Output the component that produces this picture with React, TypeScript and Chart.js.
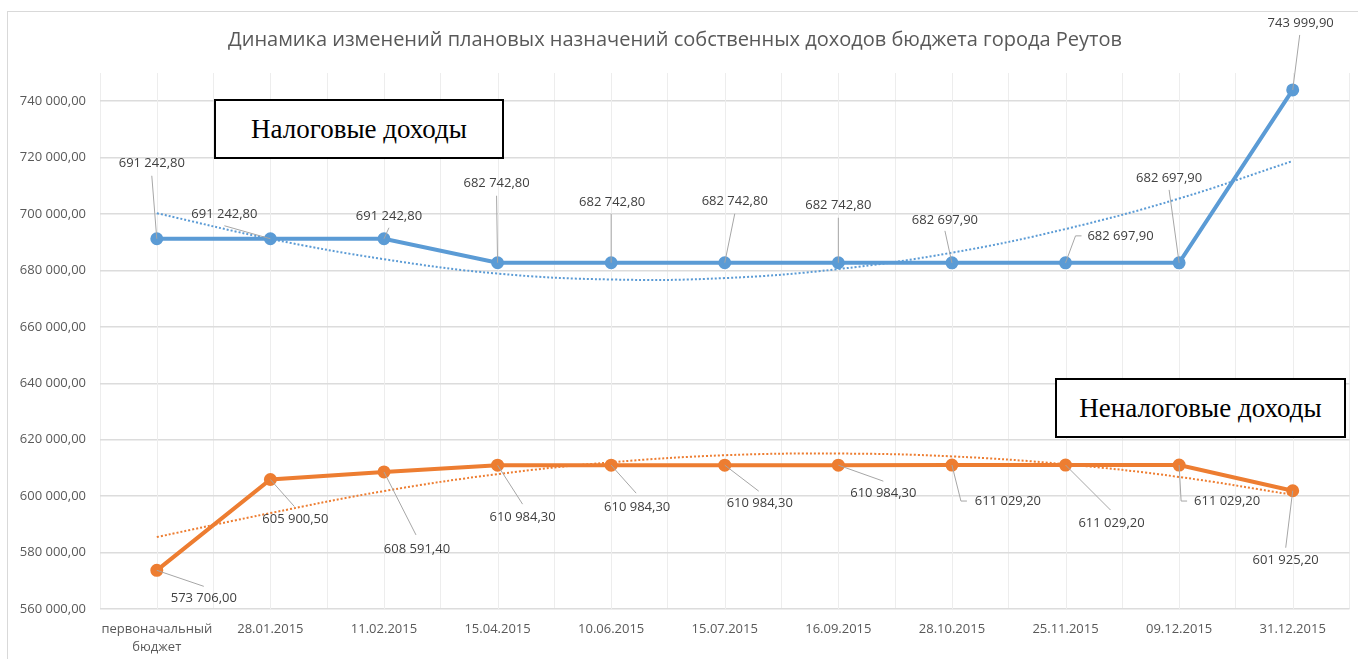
import React, { useEffect, useRef } from 'react';
import { Chart, registerables } from 'chart.js';

Chart.register(...registerables);

const chartTitle = 'Динамика изменений плановых назначений собственных доходов бюджета города Реутов';

const categories: (string | string[])[] = [
  ['первоначальный', 'бюджет'],
  '28.01.2015',
  '11.02.2015',
  '15.04.2015',
  '10.06.2015',
  '15.07.2015',
  '16.09.2015',
  '28.10.2015',
  '25.11.2015',
  '09.12.2015',
  '31.12.2015',
];

const taxIncome = [
  691242.8, 691242.8, 691242.8, 682742.8, 682742.8, 682742.8, 682742.8, 682697.9, 682697.9, 682697.9, 743999.9,
];

const nonTaxIncome = [
  573706.0, 605900.5, 608591.4, 610984.3, 610984.3, 610984.3, 610984.3, 611029.2, 611029.2, 611029.2, 601925.2,
];

// Polynomial trend lines
const taxTrend = [700300, 691200, 684000, 678900, 676800, 677300, 680500, 686300, 694700, 705500, 718800];
const nonTaxTrend = [585500, 594000, 601800, 607800, 612000, 614500, 615100, 614100, 611300, 606800, 600500];

const yTickValues = [560000, 580000, 600000, 620000, 640000, 660000, 680000, 700000, 720000, 740000];

const seriesNames = ['Налоговые доходы', 'Неналоговые доходы'];

// label placement: [label dx, label dy, leader dx, leader dy, hook length]
const taxLabelLayout = [
  [-5, -75, -5, -63, 0],
  [-46, -24, -46, -13, 0],
  [5, -22, 5, -11, 0],
  [-1, -79, -1, -67, 0],
  [1, -60, 0, -49, 0],
  [10, -61, 10, -49, 0],
  [0, -57, 0, -45, 0],
  [-7, -43, -7, -32, 0],
  [55, -27, 10, -27, 6],
  [-10, -85, -10, -73, 0],
  [8, -67, 7, -55, 0],
];
const nonTaxLabelLayout = [
  [47, 28, 47, 16, 0],
  [25, 40, 24, 27, 0],
  [33, 77, 32, 63, 0],
  [25, 52, 25, 39, 0],
  [26, 42, 25, 28, 0],
  [35, 38, 34, 26, 0],
  [45, 28, 45, 16, 0],
  [56, 36, 9, 36, 6],
  [46, 58, 45, 45, 0],
  [48, 36, 2, 36, 6],
  [-7, 70, -7, 57, 0],
];

const BLUE = '#5b9bd5';
const ORANGE = '#ed7d31';

function fmt(v: number): string {
  const [i, d] = v.toFixed(2).split('.');
  return i.replace(/\B(?=(\d{3})+(?!\d))/g, ' ') + ',' + d;
}

const centerGrid = {
  id: 'centerGrid',
  beforeDatasetsDraw(chart: any) {
    const { ctx, chartArea } = chart;
    const xs = chart.scales.x;
    ctx.save();
    ctx.strokeStyle = '#ededed';
    ctx.lineWidth = 1;
    for (let i = 0; i < categories.length; i++) {
      const x = Math.round(xs.getPixelForValue(i)) + 0.5;
      ctx.beginPath();
      ctx.moveTo(x, chartArea.top);
      ctx.lineTo(x, chartArea.bottom);
      ctx.stroke();
    }
    ctx.restore();
  },
};

const leaderLabels = {
  id: 'leaderLabels',
  afterDatasetsDraw(chart: any) {
    const { ctx } = chart;
    const layouts: Record<number, number[][]> = { 2: taxLabelLayout, 3: nonTaxLabelLayout };
    Object.keys(layouts).forEach((k) => {
      const di = Number(k);
      const layout = layouts[di];
      const meta = chart.getDatasetMeta(di);
      const data = chart.data.datasets[di].data as number[];
      meta.data.forEach((pt: any, i: number) => {
        const [dx, dy, lx, ly, hook] = layout[i];
        const x = pt.x;
        const y = pt.y;
        ctx.save();
        ctx.strokeStyle = '#a6a6a6';
        ctx.lineWidth = 1;
        ctx.beginPath();
        ctx.moveTo(x + lx, y + ly);
        ctx.lineTo(x, y);
        if (hook) {
          ctx.moveTo(x + lx, y + ly);
          ctx.lineTo(x + lx + hook, y + ly);
        }
        ctx.stroke();
        ctx.fillStyle = '#404040';
        ctx.font = '13px "Open Sans"';
        ctx.textAlign = 'center';
        ctx.textBaseline = 'middle';
        ctx.fillText(fmt(data[i]), x + dx, y + dy);
        ctx.restore();
      });
    });
  },
};

export default function App() {
  const canvasRef = useRef<HTMLCanvasElement | null>(null);

  useEffect(() => {
    if (!canvasRef.current) return;
    Chart.defaults.font.family = '"Open Sans"';
    const chart = new Chart(canvasRef.current, {
      type: 'line',
      data: {
        labels: categories as any,
        datasets: [
          {
            label: seriesNames[0] + ' (тренд)',
            data: taxTrend,
            borderColor: BLUE,
            borderWidth: 2,
            borderDash: [2, 2],
            pointRadius: 0,
            tension: 0.4,
            fill: false,
            order: 2,
          },
          {
            label: seriesNames[1] + ' (тренд)',
            data: nonTaxTrend,
            borderColor: ORANGE,
            borderWidth: 2,
            borderDash: [2, 2],
            pointRadius: 0,
            tension: 0.4,
            fill: false,
            order: 2,
          },
          {
            label: seriesNames[0],
            data: taxIncome,
            borderColor: BLUE,
            backgroundColor: BLUE,
            borderWidth: 4,
            pointRadius: 4.5,
            pointBackgroundColor: BLUE,
            pointBorderColor: BLUE,
            tension: 0,
            fill: false,
            order: 0,
          },
          {
            label: seriesNames[1],
            data: nonTaxIncome,
            borderColor: ORANGE,
            backgroundColor: ORANGE,
            borderWidth: 4,
            pointRadius: 4.5,
            pointBackgroundColor: ORANGE,
            pointBorderColor: ORANGE,
            tension: 0,
            fill: false,
            order: 0,
          },
        ],
      },
      options: {
        animation: false,
        responsive: false,
        layout: { padding: { left: 0, right: 8, top: 0, bottom: 0 } },
        plugins: {
          legend: { display: false },
          tooltip: { enabled: false },
          title: {
            display: true,
            text: chartTitle,
            color: '#595959',
            font: { size: 20, weight: 'normal', family: '"Open Sans"', lineHeight: 1.2 },
            padding: { top: 28, bottom: 21 },
          },
        },
        scales: {
          x: {
            offset: true,
            grid: { offset: true, color: '#ededed', lineWidth: 1, drawTicks: false },
            border: { display: false },
            ticks: {
              color: '#595959',
              font: { size: 13, lineHeight: 18 / 13 },
              padding: 11,
              maxRotation: 0,
              autoSkip: false,
            },
            afterFit(scale: any) {
              scale.height = 50;
            },
          },
          y: {
            min: 560000,
            max: 750000,
            grid: { color: '#dcdcdc', lineWidth: 1.6, drawTicks: false },
            border: { display: false },
            ticks: {
              color: '#595959',
              font: { size: 13 },
              padding: 14,
              callback: (v: any) => fmt(Number(v)),
            },
            afterBuildTicks(scale: any) {
              scale.ticks = yTickValues.map((value) => ({ value }));
            },
            afterFit(scale: any) {
              scale.width = 100;
            },
          },
        },
      },
      plugins: [centerGrid, leaderLabels],
    });
    return () => chart.destroy();
  }, []);

  const boxStyle: React.CSSProperties = {
    position: 'absolute',
    boxSizing: 'border-box',
    border: '2px solid #000',
    background: '#fff',
    fontFamily: '"Liberation Serif", "Times New Roman", serif',
    fontSize: 27,
    color: '#000',
    display: 'flex',
    alignItems: 'center',
    justifyContent: 'center',
    whiteSpace: 'nowrap',
  };

  return (
    <div style={{ position: 'fixed', left: 0, top: 0, width: 1358, height: 659, overflow: 'hidden', background: '#fff' }}>
      <div
        style={{
          position: 'absolute',
          left: 7,
          top: 11,
          width: 1400,
          height: 700,
          border: '1px solid #d9d9d9',
        }}
      />
      <canvas ref={canvasRef} width={1358} height={659} style={{ position: 'absolute', left: 0, top: 0 }} />
      <div style={{ ...boxStyle, left: 214, top: 99, width: 290, height: 60 }}>{seriesNames[0]}</div>
      <div style={{ ...boxStyle, left: 1055, top: 378, width: 291, height: 60 }}>{seriesNames[1]}</div>
    </div>
  );
}
